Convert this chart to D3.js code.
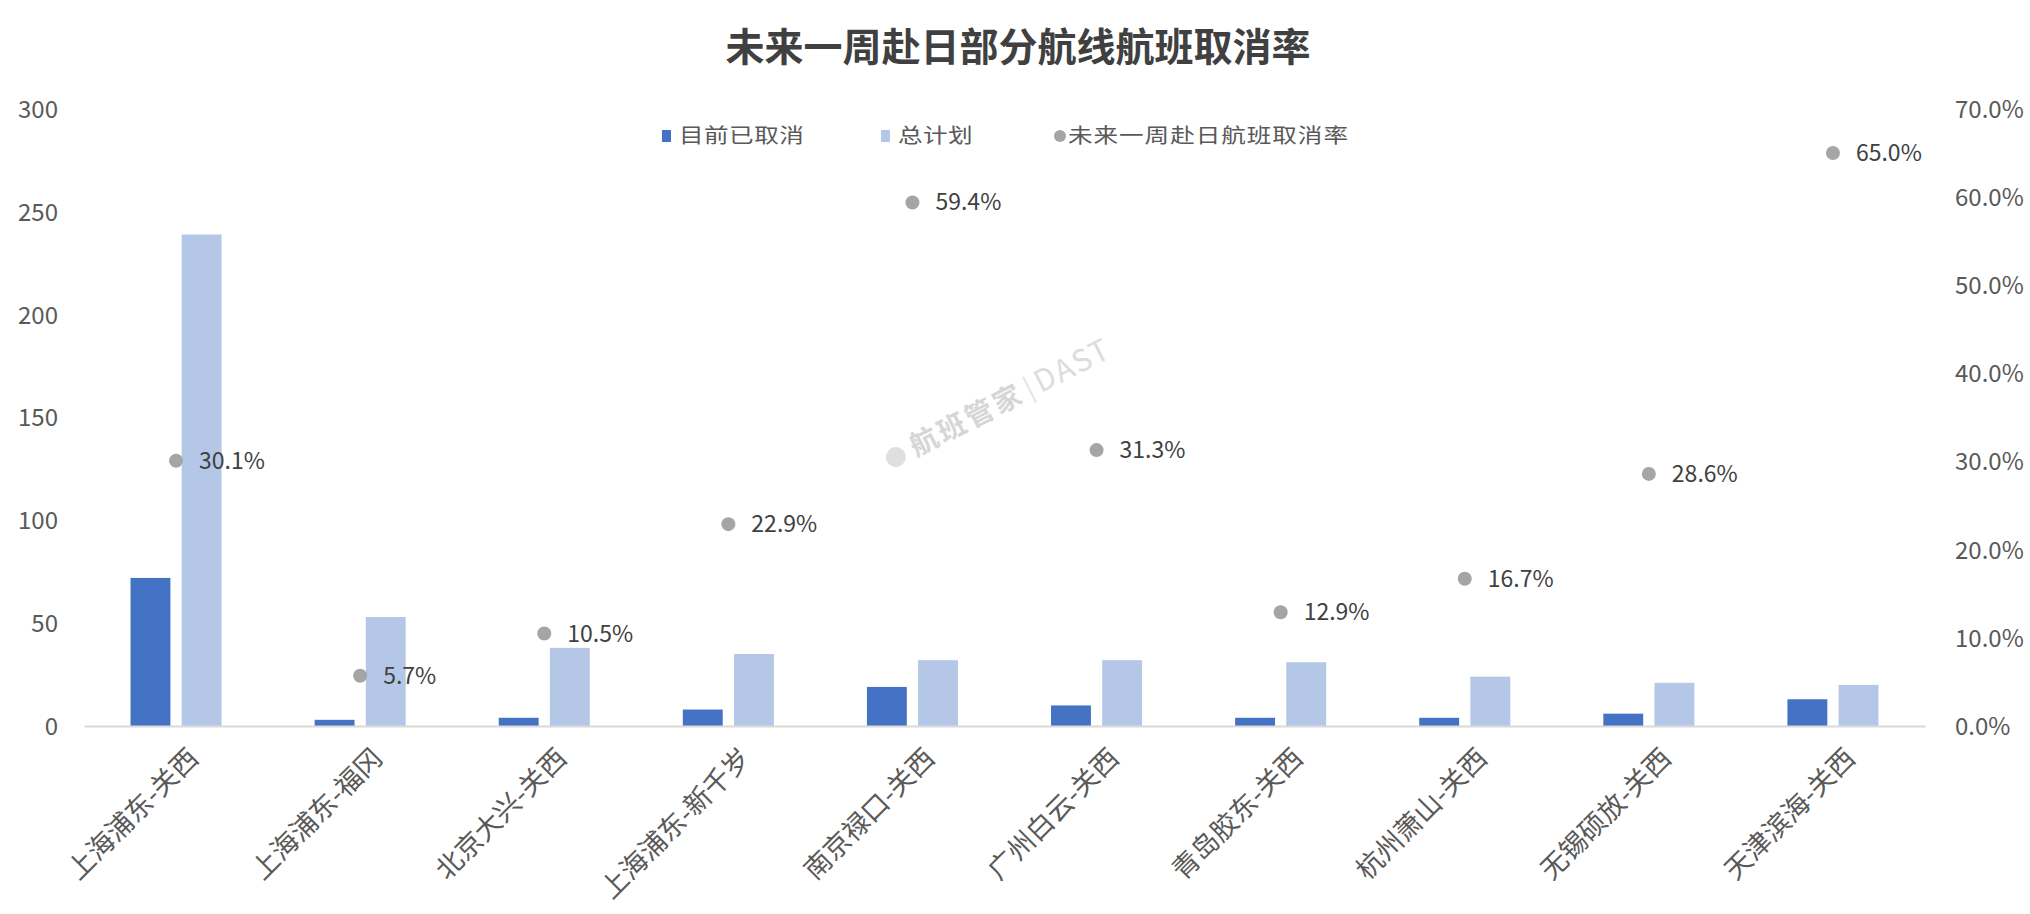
<!DOCTYPE html>
<html>
<head>
<meta charset="utf-8">
<script src="https://cdn.jsdelivr.net/npm/d3@7"></script>
<style>
  html, body { margin: 0; padding: 0; background: #ffffff; }
  svg { display: block; }
  text { font-family: "Noto Sans CJK SC", "Noto Sans", sans-serif; }
</style>
</head>
<body>
<script>
// ---------- data ----------
const categories = ["上海浦东-关西", "上海浦东-福冈", "北京大兴-关西", "上海浦东-新千岁", "南京禄口-关西",
                    "广州白云-关西", "青岛胶东-关西", "杭州萧山-关西", "无锡硕放-关西", "天津滨海-关西"];
const cancelled = [72, 3, 4, 8, 19, 10, 4, 4, 6, 13];
const planned   = [239, 53, 38, 35, 32, 32, 31, 24, 21, 20];
const cancelRate = [0.301, 0.057, 0.105, 0.229, 0.594, 0.313, 0.129, 0.167, 0.286, 0.650];
const seriesNames = ["目前已取消", "总计划", "未来一周赴日航班取消率"];
const leftTicks = [0, 50, 100, 150, 200, 250, 300];
const rightTicks = [0, 0.1, 0.2, 0.3, 0.4, 0.5, 0.6, 0.7];
const title = "未来一周赴日部分航线航班取消率";
const watermark = ["航班管家", "DAST"];

// ---------- layout ----------
const W = 2030, H = 914;
const M = { left: 84, right: 105, top: 109, bottom: 188 };
const colors = { dark: "#4472C4", light: "#B4C7E7", dot: "#A5A5A5" };

const svg = d3.select("body").append("svg").attr("width", W).attr("height", H);

const x0 = d3.scaleBand().domain(categories).range([M.left, W - M.right]).padding(0);
const x1 = d3.scaleBand().domain([0, 1]).range([x0.bandwidth() * 0.2527, x0.bandwidth() * 0.7473]).paddingInner(0.22);
const yL = d3.scaleLinear().domain([0, 300]).range([H - M.bottom, M.top]);
const yR = d3.scaleLinear().domain([0, 0.7]).range([H - M.bottom, M.top]);

// title
svg.append("text")
  .attr("x", W / 2 + 3).attr("y", 44)
  .attr("text-anchor", "middle").attr("dominant-baseline", "central")
  .attr("font-size", 39).attr("font-weight", "bold").attr("fill", "#404040")
  .text(title);

// watermark
const wm = svg.append("g").attr("transform", "translate(900,465) rotate(-27)").attr("opacity", 0.9);
wm.append("circle").attr("cx", 0).attr("cy", -9).attr("r", 10).attr("fill", "#dcdcdc");
wm.append("text").attr("x", 18).attr("y", 0).attr("font-size", 28).attr("fill", "#d2d2d2")
  .attr("font-weight", "bold").attr("letter-spacing", 3).text(watermark[0]);
wm.append("text").attr("x", 146).attr("y", -1).attr("font-size", 26).attr("fill", "#e2e2e2").text("|");
wm.append("text").attr("x", 158).attr("y", 0).attr("font-size", 30).attr("fill", "#d9d9d9")
  .attr("letter-spacing", 2).text(watermark[1]);

// left axis
const gL = svg.append("g").attr("transform", `translate(${M.left - 26},0)`)
  .call(d3.axisLeft(yL).tickValues(leftTicks).tickSize(0).tickPadding(0).tickFormat(d3.format("d")));
gL.select(".domain").remove();
gL.selectAll("text").attr("font-size", 24).attr("fill", "#595959")
  .attr("font-family", '"Noto Sans", "Open Sans", sans-serif').attr("dy", "0.35em");

// right axis
const gR = svg.append("g").attr("transform", `translate(${W - M.right + 30},0)`)
  .call(d3.axisRight(yR).tickValues(rightTicks).tickSize(0).tickPadding(0).tickFormat(d3.format(".1%")));
gR.select(".domain").remove();
gR.selectAll("text").attr("font-size", 24).attr("fill", "#595959")
  .attr("font-family", '"Noto Sans", "Open Sans", sans-serif').attr("dy", "0.35em");

// bars
const groups = svg.append("g").selectAll("g").data(categories).join("g")
  .attr("transform", d => `translate(${x0(d)},0)`);
groups.append("rect")
  .attr("x", x1(0)).attr("width", x1.bandwidth())
  .attr("y", (d, i) => yL(cancelled[i])).attr("height", (d, i) => yL(0) - yL(cancelled[i]))
  .attr("fill", colors.dark);
groups.append("rect")
  .attr("x", x1(1)).attr("width", x1.bandwidth())
  .attr("y", (d, i) => yL(planned[i])).attr("height", (d, i) => yL(0) - yL(planned[i]))
  .attr("fill", colors.light);

// x axis
const gX = svg.append("g").attr("transform", `translate(0,${H - M.bottom})`)
  .call(d3.axisBottom(x0).tickSize(0).tickPadding(0));
gX.select(".domain").attr("stroke", "#d9d9d9").attr("stroke-width", 2);
gX.selectAll("text")
  .attr("font-size", 27).attr("fill", "#595959")
  .attr("text-anchor", "end")
  .attr("dy", null).attr("y", 0)
  .attr("transform", "translate(24,34) rotate(-45)");

// rate points + labels
const pts = svg.append("g").selectAll("g").data(categories).join("g")
  .attr("transform", (d, i) => `translate(${x0(d) + x0.bandwidth() / 2},${yR(cancelRate[i])})`);
pts.append("circle").attr("r", 7).attr("fill", colors.dot);
pts.append("text").attr("x", 23).attr("dy", "0.35em")
  .attr("font-size", 23).attr("fill", "#404040")
  .attr("font-family", '"Noto Sans", "Open Sans", sans-serif')
  .text((d, i) => d3.format(".1%")(cancelRate[i]));

// legend
const legendX = [662, 881, 1060];
const legend = svg.append("g").attr("transform", "translate(0,136)");
seriesNames.forEach((name, i) => {
  const g = legend.append("g").attr("transform", `translate(${legendX[i]},0)`);
  if (i < 2) {
    g.append("rect").attr("x", 0).attr("y", -6).attr("width", 9).attr("height", 12)
      .attr("fill", i === 0 ? colors.dark : colors.light);
  } else {
    g.append("circle").attr("cx", 0).attr("cy", 0).attr("r", 6).attr("fill", colors.dot);
  }
  g.append("text").attr("transform", `translate(${i < 2 ? 17 : 8},0) scale(1.2,1)`)
    .attr("dy", "0.35em")
    .attr("font-size", 20.5).attr("letter-spacing", i < 2 ? 0.4 : 0.8).attr("fill", "#595959").text(name);
});
</script>
</body>
</html>
